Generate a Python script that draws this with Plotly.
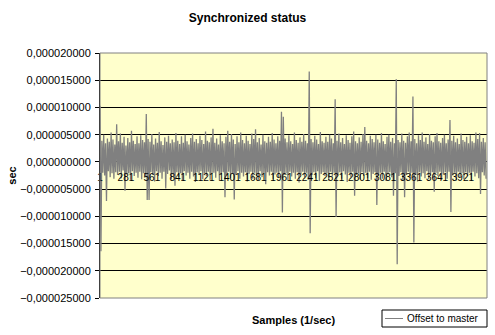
import plotly.graph_objects as go

# ---- data (offset to master, in microseconds, one reading every 10 samples) ----
sample_start = 1
sample_step = 10
offset_us = [
    10.3, -16.4, 3.9, -2.0, 5.0, -2.5, 3.4, -7.2, 4.3, -1.7, 3.7, -2.8, 5.4, -2.1, 4.1, -3.1, 3.2, -1.9, 6.9, -2.4,
    3.8, -1.8, 5.2, -3.0, 3.5, -1.6, 4.6, -5.3, 3.0, -2.3, 4.4, -2.1, 3.6, -3.3, 5.7, -1.7, 3.9, -2.6, 3.3, -2.0,
    4.7, -2.9, 3.4, -1.8, 4.9, -3.2, 4.0, -2.1, 3.6, -2.7, 8.8, -7.0, 4.2, -7.0, 3.7, -1.9, 5.1, -2.4, 3.2, -3.6,
    4.3, -1.7, 3.5, -2.6, 5.5, -2.0, 3.8, -3.1, 3.1, -1.8, 4.5, -4.9, 3.7, -2.2, 4.8, -1.6, 3.4, -3.2, 4.1, -2.3,
    3.6, -4.4, 5.3, -1.9, 3.9, -2.8, 3.3, -2.1, 4.7, -3.4, 3.5, -1.7, 5.0, -2.5, 3.8, -2.0, 3.2, -3.1, 4.4, -1.8,
    5.2, -2.7, 3.7, -3.7, 4.2, -1.9, 3.4, -2.4, 4.8, -1.7, 4.0, -3.2, 3.3, -2.1, 5.6, -2.6, 3.9, -1.8, 3.6, -3.3,
    4.5, -2.2, 6.1, -2.0, 3.5, -2.9, 4.3, -1.7, 3.2, -3.4, 4.9, -2.3, 3.8, -1.9, 3.4, -6.5, 4.6, -2.5, 5.7, -1.8,
    3.7, -3.0, 5.1, -2.1, 4.1, -6.9, 3.3, -2.4, 4.7, -1.7, 3.6, -3.1, 5.4, -2.0, 4.0, -2.7, 3.4, -1.9, 4.8, -3.6,
    3.9, -2.2, 3.3, -1.8, 5.2, -3.1, 4.2, -2.0, 6.0, -2.6, 3.6, -3.3, 4.4, -1.7, 3.2, -2.8, 5.0, -2.1, 3.8, -4.1,
    3.5, -1.9, 4.6, -2.5, 3.7, -1.8, 5.3, -3.2, 4.1, -2.3, 3.4, -2.0, 4.7, -2.9, 3.9, -1.7, 9.2, -9.3, 8.3, -2.4,
    4.3, -2.1, 3.6, -3.4, 4.9, -1.8, 3.8, -2.7, 3.3, -2.0, 5.4, -3.1, 4.0, -1.9, 3.5, -3.8, 4.5, -2.2, 3.7, -1.8,
    5.1, -2.8, 3.9, -2.0, 3.4, -3.3, 16.6, -13.1, 4.2, -2.4, 3.6, -1.9, 4.8, -3.0, 4.1, -1.7, 3.3, -3.5, 5.5, -2.2,
    3.8, -1.9, 3.5, -2.6, 4.6, -2.1, 3.7, -3.4, 5.0, -1.8, 4.3, -2.7, 3.4, -2.0, 11.5, -10.1, 3.9, -2.5, 5.2, -1.9,
    3.6, -3.1, 4.4, -1.7, 3.3, -2.3, 4.9, -3.7, 4.0, -2.0, 3.5, -2.8, 4.7, -1.8, 5.6, -6.2, 3.8, -2.4, 3.4, -2.1,
    4.5, -3.2, 3.7, -1.9, 5.1, -2.6, 6.4, -2.0, 3.9, -3.0, 3.4, -1.8, 4.8, -3.3, 4.2, -2.2, 3.6, -1.9, 5.0, -7.9,
    4.1, -2.5, 3.5, -2.0, 5.3, -3.1, 3.8, -1.8, 3.3, -3.5, 4.6, -2.3, 5.0, -1.9, 3.7, -2.8, 4.4, -6.2, 3.4, -2.1,
    15.2, -18.8, 4.0, -2.6, 3.6, -1.9, 5.2, -3.3, 3.9, -6.5, 3.5, -2.2, 4.7, -1.8, 5.4, -2.9, 3.8, -2.0, 12.0, -14.8,
    4.2, -2.4, 3.4, -3.6, 4.9, -1.9, 4.0, -2.7, 5.4, -2.1, 3.7, -3.0, 4.5, -1.7, 3.3, -3.2, 5.1, -2.3, 3.9, -1.9,
    3.6, -5.5, 4.7, -2.0, 5.3, -2.6, 3.8, -1.8, 3.5, -3.3, 4.4, -2.2, 5.0, -1.9, 3.4, -3.1, 4.1, -1.8, 7.7, -9.2,
    3.9, -2.5, 4.8, -2.0, 3.6, -3.4, 4.3, -1.8, 3.3, -2.8, 5.2, -2.1, 4.0, -3.2, 3.7, -1.9, 4.6, -2.6, 3.4, -2.0,
    4.9, -3.4, 3.8, -1.8, 3.5, -2.7, 5.4, -2.1, 4.2, -3.0, 5.3, -5.9, 3.7, -1.9, 4.4, -2.5, 3.6, -3.1,
]
samples = [sample_start + sample_step * k for k in range(len(offset_us))]
offset_sec = [v * 1e-6 for v in offset_us]

series_name = "Offset to master"
x_tick_values = [1, 281, 561, 841, 1121, 1401, 1681, 1961, 2241, 2521, 2801, 3081, 3361, 3641, 3921]
x_tick_labels = [str(v) for v in x_tick_values]
y_min, y_max, y_step = -0.000025, 0.000020, 0.000005
x_max = 4181

FONT = "Arial, Liberation Sans, sans-serif"
W, H = 495, 335
ML, MR, MT, MB = 100, 8, 53, 37
PW, PH = W - ML - MR, H - MT - MB
LINE_COLOR = "#808080"


def px_x(px):  # pixel -> paper x
    return (px - ML) / PW


def px_y(py):  # pixel -> paper y
    return (H - MB - py) / PH


fig = go.Figure()
fig.add_trace(go.Scatter(
    x=samples, y=offset_sec, mode="lines", name=series_name,
    line=dict(color=LINE_COLOR, width=1.3), showlegend=False,
))

zero_pos = (0 - y_min) / (y_max - y_min)

fig.update_layout(
    width=W, height=H,
    margin=dict(l=ML, r=MR, t=MT, b=MB, pad=0, autoexpand=False),
    paper_bgcolor="white",
    plot_bgcolor="#FFFFCC",
    separators=", ",
    font=dict(family=FONT, size=10, color="black"),
    title=dict(text="<b>Synchronized status</b>", x=0.5, xref="container", xanchor="center",
               y=1 - 18 / H, yref="container", yanchor="middle",
               font=dict(family=FONT, size=12, color="black")),
    xaxis=dict(range=[1, x_max], anchor="free", position=zero_pos,
               tickmode="array", tickvals=x_tick_values, ticktext=x_tick_labels,
               tickangle=0, ticks="", showline=False, showgrid=False, zeroline=False,
               ticklabelstandoff=8, tickfont=dict(family=FONT, size=10, color="black")),
    yaxis=dict(range=[y_min, y_max], dtick=y_step, tick0=0, tickformat=".9f",
               showgrid=True, gridcolor="black", gridwidth=1, zeroline=False,
               showline=True, linecolor="black", linewidth=1,
               ticks="outside", ticklen=4, tickcolor="black", ticklabelstandoff=2,
               tickfont=dict(family=FONT, size=11, color="black"),
               title=dict(text="<b>sec</b>", font=dict(family=FONT, size=11, color="black"), standoff=1)),
    shapes=[
        # plot-area border
        dict(type="rect", xref="x domain", yref="y domain", x0=0, x1=1, y0=0, y1=1,
             line=dict(color=LINE_COLOR, width=1), fillcolor="rgba(0,0,0,0)", layer="above"),
        # legend box and its line sample
        dict(type="rect", xref="paper", yref="paper", x0=px_x(382), x1=px_x(487), y0=px_y(310), y1=px_y(327),
             line=dict(color="black", width=1), fillcolor="white", layer="above"),
        dict(type="line", xref="paper", yref="paper", x0=px_x(385), x1=px_x(403), y0=px_y(318.5), y1=px_y(318.5),
             line=dict(color=LINE_COLOR, width=1), layer="above"),
    ],
    annotations=[
        dict(text="<b>Samples (1/sec)</b>", xref="paper", yref="paper", x=0.5, y=px_y(320),
             xanchor="center", yanchor="middle", showarrow=False,
             font=dict(family=FONT, size=11, color="black")),
        dict(text=series_name, xref="paper", yref="paper", x=px_x(405), y=px_y(318.5),
             xanchor="left", yanchor="middle", showarrow=False,
             font=dict(family=FONT, size=10, color="black")),
    ],
)

fig.write_html("out.html")
